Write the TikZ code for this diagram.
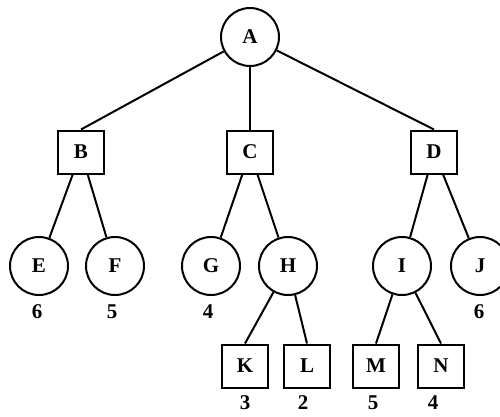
\documentclass[tikz,border=0pt]{standalone}
\usepackage{fontspec}
\setmainfont{Liberation Serif}
\begin{document}
\begin{tikzpicture}[x=1pt,y=-1pt,
  every node/.style={font=\bfseries\fontsize{21}{24}\selectfont},
  cnode/.style={draw,circle,line width=2pt,minimum size=58pt,inner sep=0pt},
  bnode/.style={draw,rectangle,line width=2pt,minimum width=46pt,minimum height=43pt,inner sep=0pt},
  val/.style={inner sep=0pt},
  edge/.style={line width=2pt}]
\useasboundingbox (0,0) rectangle (500,416);
\node[cnode] (A) at (250,37) {A};
\node[bnode] (B) at (81,152) {B};
\node[bnode] (C) at (250,152) {C};
\node[bnode] (D) at (434,152) {D};
\node[cnode] (E) at (39,266) {E};
\node[cnode] (F) at (115,266) {F};
\node[cnode] (G) at (211,266) {G};
\node[cnode] (H) at (288,266) {H};
\node[cnode] (I) at (402,266) {I};
\node[cnode] (J) at (480,266) {J};
\node[bnode] (K) at (245,366) {K};
\node[bnode] (L) at (307,366) {L};
\node[bnode] (M) at (376,366) {M};
\node[bnode] (N) at (441,366) {N};
\node[val] (vE) at (37,312) {6};
\node[val] (vF) at (112,312) {5};
\node[val] (vG) at (208,312) {4};
\node[val] (vJ) at (479,312) {6};
\node[val] (vK) at (245,403) {3};
\node[val] (vL) at (303,403) {2};
\node[val] (vM) at (373,403) {5};
\node[val] (vN) at (433,403) {4};
\draw[edge] (A) -- (B.north);
\draw[edge] (A) -- (C);
\draw[edge] (A) -- (D.north);
\draw[edge] (B) -- (E);
\draw[edge] (B) -- (F);
\draw[edge] (C) -- (G);
\draw[edge] (C) -- (H);
\draw[edge] (D) -- (I);
\draw[edge] (D) -- (J);
\draw[edge] (H) -- (K.north);
\draw[edge] (H) -- (L.north);
\draw[edge] (I) -- (M.north);
\draw[edge] (I) -- (N.north);
\end{tikzpicture}
\end{document}
